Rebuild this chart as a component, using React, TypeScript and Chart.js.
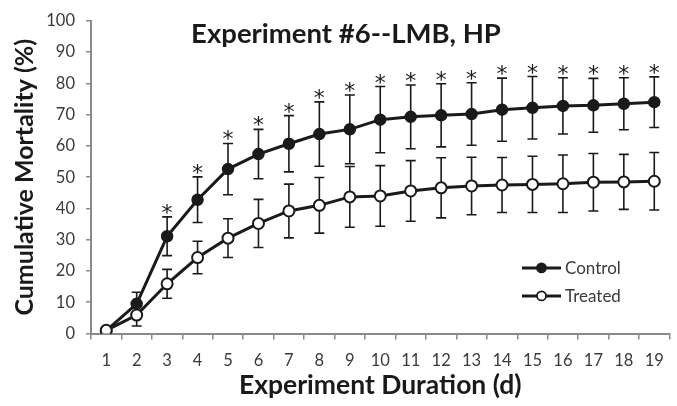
import { useEffect, useRef } from "react";
import { Chart, registerables } from "chart.js";

Chart.register(...registerables);

const days = ["1", "2", "3", "4", "5", "6", "7", "8", "9", "10", "11", "12", "13", "14", "15", "16", "17", "18", "19"];
const controlMean = [0.9, 9.5, 31.1, 42.8, 52.6, 57.4, 60.7, 63.8, 65.3, 68.4, 69.3, 69.8, 70.2, 71.6, 72.2, 72.8, 73.0, 73.5, 74.0];
const controlErr = [0.5, 3.7, 6.2, 7.3, 8.2, 7.9, 9.0, 10.3, 11.0, 10.6, 10.2, 10.1, 10.0, 10.1, 10.0, 9.0, 8.6, 8.3, 8.1];
const treatedMean = [1.0, 5.9, 15.9, 24.3, 30.5, 35.2, 39.2, 41.0, 43.7, 44.0, 45.6, 46.6, 47.2, 47.5, 47.7, 47.9, 48.4, 48.5, 48.7];
const treatedErr = [0.5, 3.5, 4.6, 5.2, 6.2, 7.7, 8.6, 8.9, 9.7, 9.7, 9.7, 9.6, 9.2, 8.8, 9.0, 9.2, 9.2, 8.8, 9.2];
const significance = ["", "", "*", "*", "*", "*", "*", "*", "*", "*", "*", "*", "*", "*", "*", "*", "*", "*", "*"];
const yTicks = [0, 10, 20, 30, 40, 50, 60, 70, 80, 90, 100];

const chartTitle = "Experiment #6--LMB, HP";
const xTitle = "Experiment Duration (d)";
const yTitle = "Cumulative Mortality (%)";

const FONT = "Lato, sans-serif";
const INK = "#1a1a1a";
const AXIS = "#8a8a8a";
const TEXT = "#3a3a3a";

Chart.defaults.font.family = FONT;
Chart.defaults.font.size = 16.5;

const errorBarPlugin = {
  id: "errorBars",
  beforeDatasetsDraw(chart: any) {
    const ctx = chart.ctx;
    const y = chart.scales.y;
    const errs = [controlErr, treatedErr];
    ctx.save();
    ctx.strokeStyle = INK;
    ctx.lineWidth = 1.6;
    chart.data.datasets.forEach((ds: any, di: number) => {
      const meta = chart.getDatasetMeta(di);
      meta.data.forEach((pt: any, i: number) => {
        const v = ds.data[i];
        const e = errs[di][i];
        const yt = y.getPixelForValue(v + e);
        const yb = y.getPixelForValue(v - e);
        const x = pt.x;
        ctx.beginPath();
        ctx.moveTo(x, yt);
        ctx.lineTo(x, yb);
        ctx.moveTo(x - 5, yt);
        ctx.lineTo(x + 5, yt);
        ctx.moveTo(x - 5, yb);
        ctx.lineTo(x + 5, yb);
        ctx.stroke();
      });
    });
    ctx.restore();
  },
  afterDatasetsDraw(chart: any) {
    const ctx = chart.ctx;
    const y = chart.scales.y;
    const meta = chart.getDatasetMeta(0);
    ctx.save();
    ctx.fillStyle = INK;
    ctx.font = `22px 'DejaVu Sans', sans-serif`;
    ctx.textAlign = "center";
    ctx.textBaseline = "alphabetic";
    meta.data.forEach((pt: any, i: number) => {
      if (!significance[i]) return;
      const yt = y.getPixelForValue(controlMean[i] + controlErr[i]);
      ctx.fillText(significance[i], pt.x, yt + 3);
    });
    ctx.restore();
  },
  afterDraw(chart: any) {
    const ctx = chart.ctx;
    const area = chart.chartArea;
    ctx.save();
    // title
    ctx.fillStyle = INK;
    ctx.font = `bold 27.5px ${FONT}`;
    ctx.textAlign = "center";
    ctx.textBaseline = "middle";
    ctx.fillText(chartTitle, area.left + 255, area.top + 13);
    // legend
    const lx = area.left + 431;
    const ly = area.top + 247;
    chart.data.datasets.forEach((ds: any, i: number) => {
      const cy = ly + i * 28;
      ctx.strokeStyle = INK;
      ctx.lineWidth = 3;
      ctx.beginPath();
      ctx.moveTo(lx, cy);
      ctx.lineTo(lx + 39, cy);
      ctx.stroke();
      ctx.beginPath();
      ctx.arc(lx + 19.5, cy, 4.5, 0, Math.PI * 2);
      ctx.fillStyle = ds.pointBackgroundColor;
      ctx.fill();
      ctx.lineWidth = 1.8;
      ctx.stroke();
      ctx.fillStyle = TEXT;
      ctx.font = `17px ${FONT}`;
      ctx.textAlign = "left";
      ctx.textBaseline = "middle";
      ctx.fillText(ds.label, lx + 43, cy + 1);
    });
    ctx.restore();
  },
};

export default function App() {
  const ref = useRef<HTMLCanvasElement | null>(null);
  useEffect(() => {
    if (!ref.current) return;
    const chart = new Chart(ref.current, {
      type: "line",
      data: {
        labels: days,
        datasets: [
          {
            label: "Control",
            data: controlMean,
            borderColor: INK,
            borderWidth: 3,
            pointRadius: 5.5,
            pointBackgroundColor: INK,
            pointBorderColor: INK,
            pointBorderWidth: 1.5,
            tension: 0,
            order: 2,
          },
          {
            label: "Treated",
            data: treatedMean,
            borderColor: INK,
            borderWidth: 3,
            pointRadius: 5.5,
            pointBackgroundColor: "#ffffff",
            pointBorderColor: INK,
            pointBorderWidth: 2,
            tension: 0,
            order: 1,
          },
        ],
      },
      options: {
        animation: false,
        responsive: true,
        maintainAspectRatio: false,
        layout: { padding: { left: 0, top: 17, right: 7, bottom: 0 } },
        plugins: {
          legend: { display: false },
          title: { display: false },
          tooltip: { enabled: false },
        },
        scales: {
          x: {
            type: "category",
            offset: true,
            grid: {
              display: true,
              drawOnChartArea: false,
              offset: true,
              tickLength: 6,
              color: AXIS,
              lineWidth: 1.5,
            },
            border: { display: true, color: AXIS, width: 2 },
            ticks: {
              color: TEXT,
              font: { family: FONT, size: 16.5, weight: "normal" },
              padding: 11,
              maxRotation: 0,
              autoSkip: false,
            },
            title: {
              display: true,
              text: xTitle,
              color: INK,
              font: { family: FONT, size: 26.5, weight: "bold" },
              padding: { top: 0, bottom: 5 },
            },
            afterFit(scale: any) {
              scale.height = 72.5;
            },
          },
          y: {
            min: 0,
            max: 100,
            afterBuildTicks(scale: any) {
              scale.ticks = yTicks.map((v) => ({ value: v }));
            },
            grid: {
              display: true,
              drawOnChartArea: false,
              tickLength: 5,
              color: AXIS,
              lineWidth: 1.5,
            },
            border: { display: true, color: AXIS, width: 2 },
            ticks: {
              color: TEXT,
              font: { family: FONT, size: 16.5, weight: "normal" },
              padding: 11,
            },
            title: {
              display: true,
              text: yTitle,
              color: INK,
              font: { family: FONT, size: 25, weight: "bold" },
              padding: { top: 10, bottom: 0 },
            },
            afterFit(scale: any) {
              scale.width = 91;
            },
          },
        },
      },
      plugins: [errorBarPlugin],
    } as any);
    return () => chart.destroy();
  }, []);
  return (
    <div style={{ position: "absolute", left: 0, top: 0, width: 677, height: 406, background: "#fff" }}>
      <canvas ref={ref} />
    </div>
  );
}
